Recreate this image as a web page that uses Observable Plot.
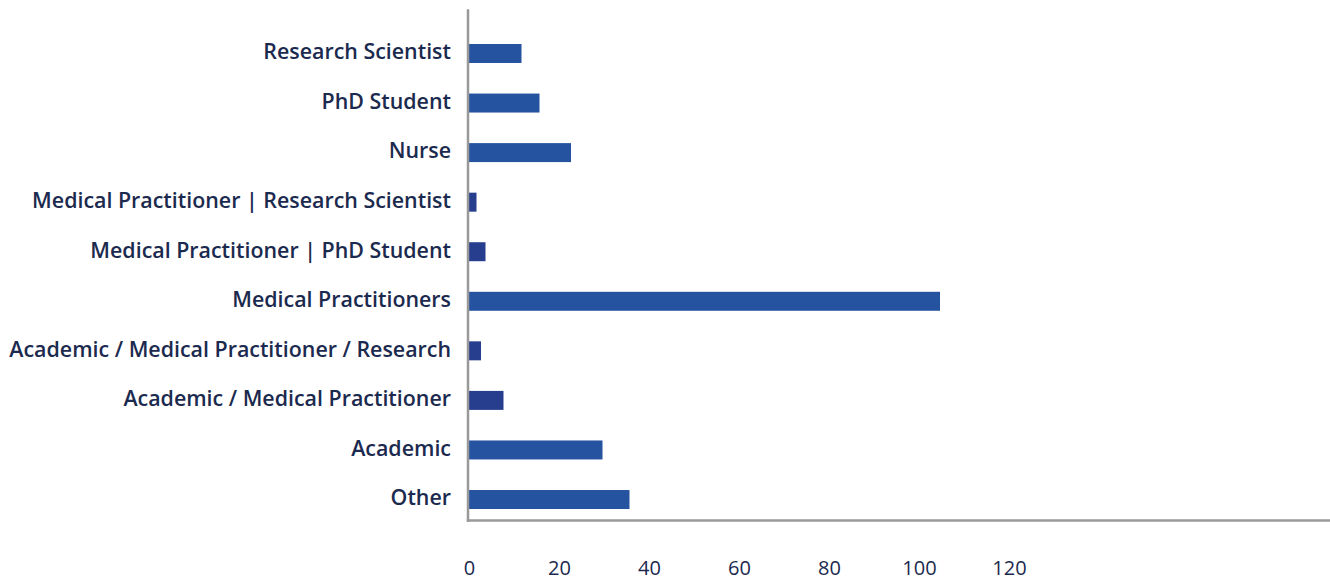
<!DOCTYPE html>
<html>
<head>
<meta charset="utf-8">
<script src="https://cdn.jsdelivr.net/npm/d3@7"></script>
<script src="https://cdn.jsdelivr.net/npm/@observablehq/plot@0.6"></script>
<style>
  html, body { margin: 0; padding: 0; background: #fff; }
  #chart svg { display: block; }
</style>
</head>
<body>
<div id="chart"></div>
<script>
const roles = [
  "Research Scientist",
  "PhD Student",
  "Nurse",
  "Medical Practitioner | Research Scientist",
  "Medical Practitioner | PhD Student",
  "Medical Practitioners",
  "Academic / Medical Practitioner / Research",
  "Academic / Medical Practitioner",
  "Academic",
  "Other"
];
const counts = [12, 16, 23, 2, 4, 105, 3, 8, 30, 36];
const xTicks = [0, 20, 40, 60, 80, 100, 120];

const data = roles.map((r, i) => ({role: r, count: counts[i]}));

const mainBlue = "#2553a0";
const darkBlue = "#263e8d";
const darkRoles = new Set([roles[3], roles[4], roles[6], roles[7]]);
const textColor = "#1b2a4e";

const W = 1330, H = 580;
const mL = 467.5, mT = 10, mB = 60;
const pxPerUnit = 4.5;

const chart = Plot.plot({
  width: W,
  height: H,
  marginLeft: mL,
  marginRight: 0,
  marginTop: mT,
  marginBottom: mB,
  style: {fontFamily: "'Open Sans', sans-serif", background: "#fff", overflow: "visible"},
  x: {domain: [0, (W - mL) / pxPerUnit], axis: null},
  y: {domain: roles, range: [28.7, 524.3], paddingInner: 0.617, paddingOuter: 0.3085, round: false, axis: null},
  marks: [
    Plot.barX(data, {
      x: "count",
      y: "role",
      fill: d => darkRoles.has(d.role) ? darkBlue : mainBlue
    }),
    Plot.frame({anchor: "left", stroke: "#999", strokeWidth: 2.5}),
    Plot.frame({anchor: "bottom", stroke: "#999", strokeWidth: 2.5}),
    Plot.axisY({
      tickSize: 0,
      tickPadding: 17,
      dy: -1.5,
      fontSize: 21.4,
      fontWeight: 600,
      fill: textColor,
      label: null
    }),
    Plot.axisX({
      ticks: xTicks,
      tickSize: 0,
      tickPadding: 40,
      dx: 1.5,
      fontSize: 20,
      fill: textColor,
      label: null
    })
  ]
});
document.getElementById("chart").appendChild(chart);
</script>
</body>
</html>
